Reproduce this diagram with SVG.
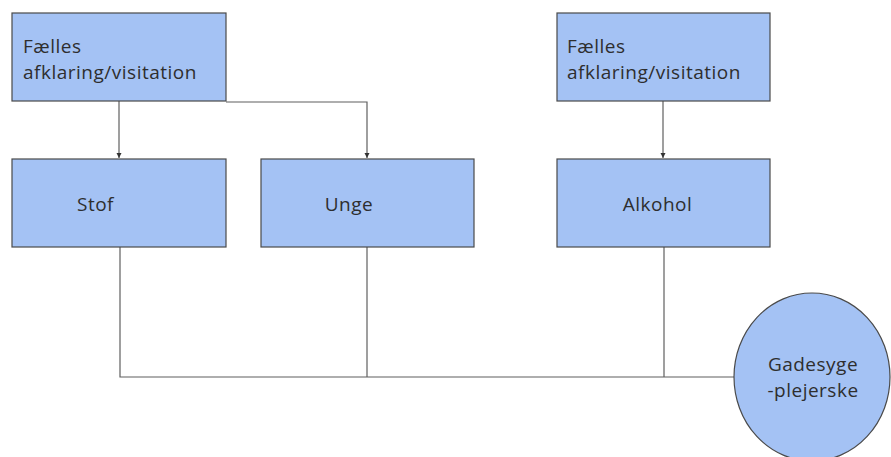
<svg xmlns="http://www.w3.org/2000/svg" width="891" height="457" viewBox="0 0 891 457">
<style>
.box{fill:#a4c2f4;stroke:#4a4a4a;stroke-width:1.2}
.t{font-family:"Open Sans","Noto Sans",sans-serif;font-size:19px;fill:#2e2e2e;letter-spacing:0.5px}
.c{fill:none;stroke:#5f5f5f;stroke-width:1.2}
</style>
<defs>
<marker id="ah" markerWidth="6" markerHeight="6" refX="5" refY="3" orient="auto" markerUnits="userSpaceOnUse">
<path d="M0,0.5 L5,3 L0,5.5 z" fill="#333"/>
</marker>
</defs>
<g id="connectors">
<path class="c" d="M119,101 V158" marker-end="url(#ah)"/>
<path class="c" d="M226,102 H367 V158" marker-end="url(#ah)"/>
<path class="c" d="M663,101 V158" marker-end="url(#ah)"/>
<path class="c" d="M120,247 V377 H734"/>
<path class="c" d="M367,247 V377"/>
<path class="c" d="M664,247 V377"/>
</g>
<g id="faelles1">
<rect class="box" x="12" y="13" width="214" height="88"/>
<text class="t" x="23" y="53">Fælles<tspan x="23" dy="26">afklaring/visitation</tspan></text>
</g>
<g id="faelles2">
<rect class="box" x="557" y="13" width="213" height="88"/>
<text class="t" x="567" y="53">Fælles<tspan x="567" dy="26">afklaring/visitation</tspan></text>
</g>
<g id="stof">
<rect class="box" x="12" y="159" width="214" height="88"/>
<text class="t" x="95.5" y="211" text-anchor="middle">Stof</text>
</g>
<g id="unge">
<rect class="box" x="261" y="159" width="213" height="88"/>
<text class="t" x="349" y="211" text-anchor="middle">Unge</text>
</g>
<g id="alkohol">
<rect class="box" x="557" y="159" width="213" height="88"/>
<text class="t" x="657.5" y="211" text-anchor="middle">Alkohol</text>
</g>
<g id="gadesygeplejerske">
<ellipse class="box" cx="812" cy="377" rx="78" ry="84"/>
<text class="t" x="813" y="371" text-anchor="middle">Gadesyge<tspan x="813" dy="26">-plejerske</tspan></text>
</g>
</svg>
